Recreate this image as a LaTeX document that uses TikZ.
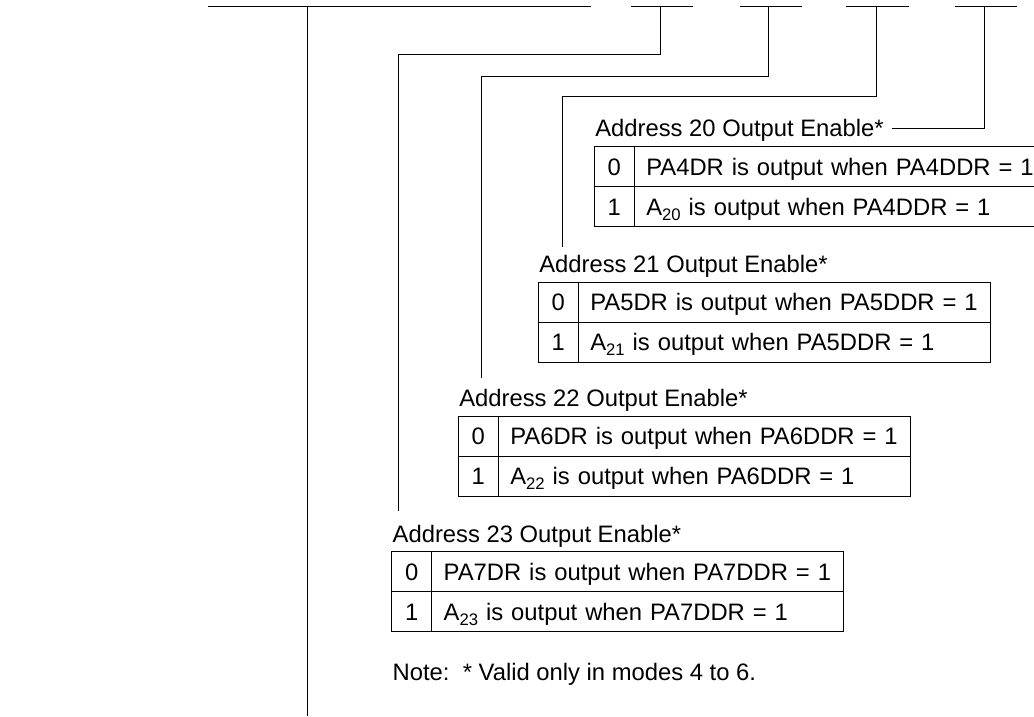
\documentclass[tikz,border=0pt]{standalone}
\usepackage{fontspec}
\setmainfont{Liberation Sans}
\usetikzlibrary{positioning}
\newcommand{\addrsub}[1]{\raisebox{-5pt}{\fontsize{16.7}{18}\selectfont #1}}

\begin{document}
\begin{tikzpicture}[x=1pt, y=-1pt, line width=1pt,
  every node/.style={font=\fontsize{23.8}{28}\selectfont, inner sep=0pt,
    outer sep=0pt, text height=17pt, text depth=0pt},
  bitcell/.style={draw, minimum width=40pt, minimum height=40pt},
  textcell/.style={draw, minimum height=40pt, text width=388pt,
    inner xsep=12pt, align=left},
  enlabel/.style={align=left}
]
  \useasboundingbox (0,0) rectangle (1034,716);

  % register bits along the top
  \draw (208,6) -- (591,6);
  \draw (631,6) -- (693,6);
  \draw (740,6) -- (802,6);
  \draw (846,6) -- (909,6);
  \draw (955,6) -- (1017,6);
  \draw (307,6) -- (307,716);
  \coordinate (tap23) at (660,6);
  \coordinate (tap22) at (768,6);
  \coordinate (tap21) at (876,6);
  \coordinate (tap20) at (984,6);

  % bit 4: address 20
  \node[bitcell] (z20) at (614.3,166.7) {0};
  \node[textcell, right=0pt of z20] (tz20) {PA4DR is output when PA4DDR = 1};
  \node[bitcell, below=0pt of z20] (o20) {1};
  \node[textcell, right=0pt of o20] (to20) {A\addrsub{20} is output when PA4DDR = 1};
  \node[enlabel, above right=10pt and 1pt of z20.north west] (lab20) {Address 20 Output Enable*};

  % bit 5: address 21
  \node[bitcell] (z21) at (558.3,302.3) {0};
  \node[textcell, right=0pt of z21] (tz21) {PA5DR is output when PA5DDR = 1};
  \node[bitcell, below=0pt of z21] (o21) {1};
  \node[textcell, right=0pt of o21] (to21) {A\addrsub{21} is output when PA5DDR = 1};
  \node[enlabel, above right=10pt and 1pt of z21.north west] (lab21) {Address 21 Output Enable*};

  % bit 6: address 22
  \node[bitcell] (z22) at (478.3,436) {0};
  \node[textcell, right=0pt of z22] (tz22) {PA6DR is output when PA6DDR = 1};
  \node[bitcell, below=0pt of z22] (o22) {1};
  \node[textcell, right=0pt of o22] (to22) {A\addrsub{22} is output when PA6DDR = 1};
  \node[enlabel, above right=10pt and 1pt of z22.north west] (lab22) {Address 22 Output Enable*};

  % bit 7: address 23
  \node[bitcell] (z23) at (411.7,571.7) {0};
  \node[textcell, right=0pt of z23] (tz23) {PA7DR is output when PA7DDR = 1};
  \node[bitcell, below=0pt of z23] (o23) {1};
  \node[textcell, right=0pt of o23] (to23) {A\addrsub{23} is output when PA7DDR = 1};
  \node[enlabel, above right=9pt and 1pt of z23.north west] (lab23) {Address 23 Output Enable*};

  \node[enlabel, below right=31.3pt and 1pt of o23.south west] (note) {Note:\ \ * Valid only in modes 4 to 6.};

  % leads from the bits down to the labels
  \coordinate (end21) at (562,247);
  \coordinate (end22) at (481,378);
  \coordinate (end23) at (398,510.7);
  \draw (tap20) |- ([xshift=8pt]lab20.east);
  \draw (tap21) -- ++(0,90) -| (end21);
  \draw (tap22) -- ++(0,70) -| (end22);
  \draw (tap23) -- ++(0,48) -| (end23);
\end{tikzpicture}
\end{document}
